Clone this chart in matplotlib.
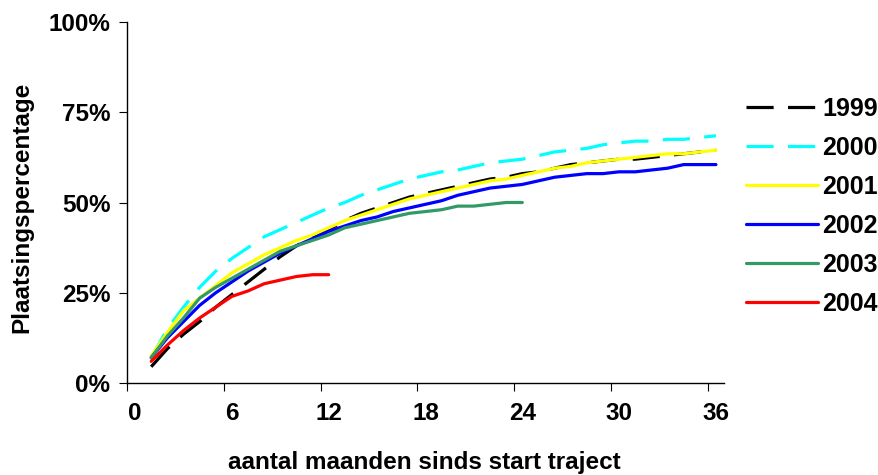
import matplotlib
matplotlib.use('Agg')
import matplotlib.pyplot as plt

plt.rcParams['font.family'] = ['Liberation Sans', 'DejaVu Sans']
plt.rcParams['font.weight'] = 'bold'

# maanden sinds start traject (categorie 1..36)
maanden = list(range(1, 37))

p1999 = [4.5, 9.5, 13.5, 17, 21, 24.5, 28, 31.5, 35, 38, 40.5, 42.5,
         45, 47, 48.5, 50, 51.5, 52.5, 53.5, 54.5, 55.5, 56.5, 57, 58,
         58.5, 59.5, 60.5, 61, 61.5, 62, 62, 62.5, 63, 63.5, 64, 64.5]
p2000 = [7, 15, 21, 26.5, 31, 34.5, 37.5, 40.5, 42.5, 44.5, 46.5, 48.5,
         50, 52, 53.5, 55, 56.5, 57.5, 58.5, 59, 60, 61, 61.5, 62,
         63, 64, 64.5, 65, 66, 66.5, 67, 67, 67.5, 67.5, 68, 68.5]
p2001 = [7.5, 14, 20, 23.5, 27, 30.5, 33, 35.5, 37.5, 39.5, 41, 43,
         45, 46.5, 48, 49.5, 51, 52, 53, 54, 55, 56, 56.5, 57.5,
         58.5, 59.5, 60, 61, 61.5, 62, 62.5, 63, 63.5, 63.5, 64, 64.5]
p2002 = [7, 12.5, 17, 21.5, 25, 28, 31, 33.5, 36, 38, 40, 42,
         43.5, 45, 46, 47.5, 48.5, 49.5, 50.5, 52, 53, 54, 54.5, 55,
         56, 57, 57.5, 58, 58, 58.5, 58.5, 59, 59.5, 60.5, 60.5, 60.5]
p2003 = [7, 13, 18, 23.5, 26.5, 29, 31.5, 34, 36.5, 38, 39.5, 41,
         43, 44, 45, 46, 47, 47.5, 48, 49, 49, 49.5, 50, 50]
p2004 = [6, 10.5, 14.5, 18, 21, 24, 25.5, 27.5, 28.5, 29.5, 30, 30]

jaren = ['1999', '2000', '2001', '2002', '2003', '2004']
reeksen = [p1999, p2000, p2001, p2002, p2003, p2004]
kleuren = ['#000000', '#00FFFF', '#FFFF00', '#0000FF', '#339966', '#FF0000']
stijlen = [(0, (8.5, 4.5)), (0, (8.5, 4.5)), '-', '-', '-', '-']

x_labels = [0, 6, 12, 18, 24, 30, 36]
y_ticks = [0, 25, 50, 75, 100]

fs = 17.5

fig = plt.figure(figsize=(8.79, 4.75), dpi=100)
ax = fig.add_axes([127 / 879, 1 - 383 / 475, 597 / 879, 361 / 475])

for jaar, waarden, kleur, stijl in zip(jaren, reeksen, kleuren, stijlen):
    ax.plot(maanden[:len(waarden)], waarden, color=kleur, linestyle=stijl,
            linewidth=2.3, label=jaar, solid_capstyle='round')

ax.set_xlim(-0.5, 36.5)
ax.set_ylim(0, 100)

# tick marks between categories, labels on the categories
ax.set_xticks([k - 0.5 for k in x_labels])
ax.set_xticklabels([])
ax.set_xticks(x_labels, minor=True)
ax.set_xticklabels([str(v) for v in x_labels], minor=True)
ax.tick_params(axis='x', which='major', length=6, direction='out')
ax.tick_params(axis='x', which='minor', length=0, pad=14, labelsize=fs)

ax.set_yticks(y_ticks)
ax.set_yticklabels([f'{v}%' for v in y_ticks])
ax.tick_params(axis='y', length=6, direction='out', labelsize=fs, pad=6)

for s in ['top', 'right']:
    ax.spines[s].set_visible(False)
for s in ['left', 'bottom']:
    ax.spines[s].set_linewidth(1.0)

fig.text(424 / 879, 1 - 462 / 475, 'aantal maanden sinds start traject',
         ha='center', va='center', fontsize=fs, fontweight='bold')
fig.text(22 / 879, 1 - 207 / 475, 'Plaatsingspercentage', rotation=90,
         ha='center', va='center', fontsize=fs, fontweight='bold')

fig.legend(loc='upper left', bbox_to_anchor=(746 / 879, 1 - 97 / 475),
           frameon=False, fontsize=18, handlelength=2.9, handletextpad=0.15,
           labelspacing=0.6, borderpad=0, borderaxespad=0)

fig.savefig('out.png', dpi=100)
